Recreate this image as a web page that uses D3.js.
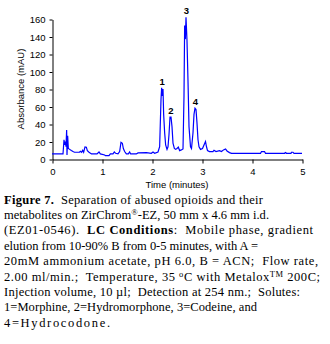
<!DOCTYPE html>
<html><head><meta charset="utf-8">
<script src="https://cdn.jsdelivr.net/npm/d3@7"></script>
<style>body{margin:0;background:#fff}svg{display:block}</style>
</head><body>
<svg id="c" width="330" height="344"></svg>
<script>
// ---- data ----
const time = [0,0.22,0.24,0.253,0.267,0.28,0.293,0.3,0.313,0.327,0.353,0.387,0.42,0.45,0.55,0.567,0.593,0.613,0.633,0.66,0.687,0.707,0.74,0.79,0.9,0.94,0.967,1.053,1.07,1.14,1.167,1.22,1.247,1.273,1.32,1.353,1.38,1.407,1.427,1.453,1.487,1.527,1.553,1.573,1.687,1.72,1.887,1.987,2.02,2.053,2.12,2.153,2.18,2.193,2.207,2.22,2.233,2.253,2.273,2.3,2.32,2.34,2.36,2.38,2.4,2.42,2.447,2.473,2.5,2.527,2.553,2.587,2.62,2.64,2.653,2.667,2.68,2.7,2.72,2.74,2.77,2.79,2.82,2.84,2.86,2.88,2.9,2.92,2.94,2.97,3.01,3.04,3.07,3.09,3.11,3.15,3.22,3.24,3.28,3.35,3.39,3.43,3.47,3.5,3.55,3.59,4.17,4.19,4.25,4.27,4.65,4.67,4.69,4.78,4.79,4.82,4.84,5];
const absorbance = [5.8,5.8,22,16,20,14,33,4.6,26.5,12,11,9.6,8.5,7.7,7.7,8.8,7.7,10,7.7,13.8,13.5,9.6,7.7,5.8,5.8,8,5.8,4.6,3.8,3.8,5.8,5.8,8,6.5,5.8,8.5,19,18,12,8.5,5.8,5.8,8,5.8,5.8,7,7.3,6.5,8,6.5,8,14,68,81.5,72,80,51,30,16,11,14,28,48,48,37,18,12,11,12,13.5,9.6,10.4,11.5,72,152.7,137,162,135,89,37,14,12,30,51,58,56.5,41,22,14,11,12,16,20,14,9.6,8.5,8.5,10,8.5,9.6,8.5,10.4,11.5,9.2,7.3,6.5,6.5,8.5,8.5,6.5,6.5,7.5,6.5,6.5,7.7,7.7,6.5,6.5];
const xTicks = [0,1,2,3,4,5];
const yTicks = [0,20,40,60,80,100,120,140,160];
const peakLabels = ["1","2","3","4"];
const peakTimes = [2.193,2.37,2.68,2.86];
const peakValues = [81.5,48,162,58];
const xTitle = "Time (minutes)";
const yTitle = "Absorbance (mAU)";
const captionLines = [
  [{t:"Figure 7.",b:1},{t:"  Separation of abused opioids and their"}],
  [{t:"metabolites on ZirChrom"},{t:"®",s:1},{t:"-EZ, 50 mm x 4.6 mm i.d."}],
  [{t:"(EZ01-0546).  "},{t:"LC Conditions",b:1},{t:":  Mobile phase, gradient"}],
  [{t:"elution from 10-90% B from 0-5 minutes, with A ="}],
  [{t:"20mM ammonium acetate, pH 6.0, B = ACN;  Flow rate,"}],
  [{t:"2.00 ml/min.;  Temperature, 35 "},{t:"o",s:1},{t:"C with Metalox"},{t:"TM",s:1},{t:" 200C;"}],
  [{t:"Injection volume, 10 µl;  Detection at 254 nm.;  Solutes:"}],
  [{t:"1=Morphine, 2=Hydromorphone, 3=Codeine, and"}],
  [{t:"4=Hydrocodone."}]
];
const captionRight = [263,269,313,258,318,320,300,257,110];

// ---- drawing ----
const svg = d3.select("#c");
const x = d3.scaleLinear().domain([0,5]).range([52,302]);
const y = d3.scaleLinear().domain([0,160]).range([159,19]);
const sans = "'Liberation Sans', Arial, sans-serif";

const gx = svg.append("g").attr("transform","translate(0.5,159.5)")
  .call(d3.axisBottom(x).tickValues(xTicks).tickSize(4).tickSizeOuter(0).tickPadding(5).tickFormat(d3.format("d")));
const gy = svg.append("g").attr("transform","translate(52.5,0.5)")
  .call(d3.axisLeft(y).tickValues(yTicks).tickSize(3).tickSizeOuter(0).tickPadding(4).tickFormat(d3.format("d")));
[gx,gy].forEach(g=>{
  g.selectAll("path,line").attr("stroke","#000").attr("stroke-width",1);
  g.selectAll("text").attr("fill","#000").style("font-family",sans).style("font-size","9.5px");
});

svg.append("path")
  .datum(time.map((t,i)=>[t,absorbance[i]]))
  .attr("fill","none").attr("stroke","#0000ff").attr("stroke-width",1.2)
  .attr("stroke-linejoin","miter")
  .attr("d", d3.line().x(d=>x(d[0])).y(d=>y(d[1])));

svg.selectAll("text.pk").data(peakLabels).join("text").attr("class","pk")
  .attr("x",(d,i)=>x(peakTimes[i])+0.5).attr("y",(d,i)=>y(peakValues[i])-3)
  .attr("text-anchor","middle").style("font-family",sans).style("font-size","9.5px")
  .style("font-weight","bold").text(d=>d);

svg.append("text").attr("x",177).attr("y",188).attr("text-anchor","middle")
  .style("font-family",sans).style("font-size","9.5px").text(xTitle);
svg.append("text").attr("transform","translate(24,89) rotate(-90)").attr("text-anchor","middle")
  .style("font-family",sans).style("font-size","9.5px").text(yTitle);

const cap = svg.append("g").style("font-family","'Liberation Serif','Times New Roman',serif").style("font-size","12.5px");
captionLines.forEach((segs,i)=>{
  const tx = cap.append("text").attr("x",4).attr("y",203.5+i*15.4)
    .attr("textLength",captionRight[i]-4).attr("lengthAdjust","spacing")
    .style("white-space","pre");
  let prevSup=false;
  segs.forEach(s=>{
    const ts = tx.append("tspan").text(s.t);
    if(s.b) ts.style("font-weight","bold");
    if(s.s){ ts.attr("dy",-4).style("font-size","8.5px"); prevSup=true; }
    else if(prevSup){ ts.attr("dy",4); prevSup=false; }
  });
});
</script>
</body></html>
